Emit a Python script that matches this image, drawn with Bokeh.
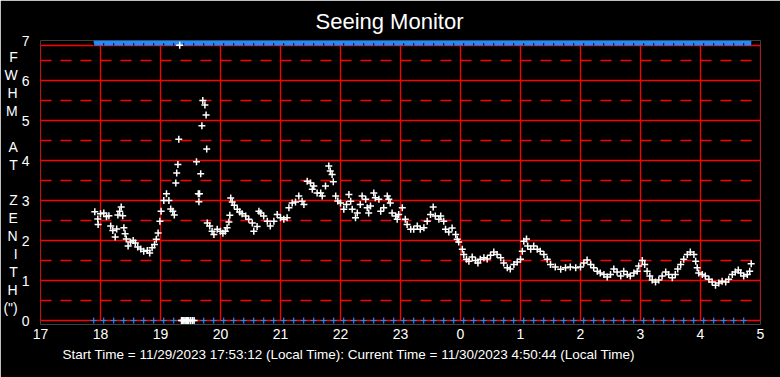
from bokeh.plotting import figure
from bokeh.models import Range1d, FixedTicker, Title
from bokeh.embed import file_html
from bokeh.resources import INLINE

# ---------------- data ----------------
title_text = "Seeing Monitor"
footer_text = "Start Time = 11/29/2023  17:53:12 (Local Time): Current Time =  11/30/2023 4:50:44  (Local Time)"
ylabel_letters = ["F", "W", "H", "M", " ", "A", "T", " ", "Z", "E", "N", "I", "T", "H", "(\")"]

x_ticks = [17, 18, 19, 20, 21, 22, 23, 24, 25, 26, 27, 28, 29]
x_tick_labels = ["17", "18", "19", "20", "21", "22", "23", "0", "1", "2", "3", "4", "5"]
y_ticks = [0, 1, 2, 3, 4, 5, 6, 7]
half_levels = [0.5, 1.5, 2.5, 3.5, 4.5, 5.5, 6.5]
frame_top = 6.875

start_hour = 17 + 53 / 60 + 12 / 3600
end_hour = 24 + 4 + 50 / 60 + 44 / 3600

fwhm_time = [
    17.905, 17.955, 17.96, 18.0, 18.055, 18.10, 18.14, 18.17, 18.205, 18.245,
    18.27, 18.29, 18.32, 18.345, 18.37, 18.39, 18.41, 18.43, 18.46, 18.50,
    18.545, 18.58, 18.62, 18.67, 18.72, 18.78, 18.82, 18.86, 18.90, 18.93,
    18.96, 18.99, 19.01, 19.055, 19.10, 19.14, 19.17, 19.205, 19.23, 19.255,
    19.27, 19.29, 19.305, 19.32,
    19.35, 19.37, 19.39, 19.41, 19.43, 19.45, 19.47, 19.50, 19.53, 19.56,
    19.60, 19.63, 19.64, 19.65, 19.67, 19.69, 19.705, 19.74, 19.76, 19.77,
    19.78, 19.82, 19.86, 19.89, 19.945, 20.0, 20.04, 20.08, 20.11, 20.14,
    20.155, 20.17, 20.195, 20.23, 20.28, 20.32, 20.36, 20.42, 20.47, 20.53,
    20.555, 20.61, 20.64, 20.67, 20.72, 20.78, 20.83, 20.89, 20.945, 21.0,
    21.055, 21.11, 21.14, 21.195, 21.25, 21.305, 21.36, 21.39, 21.445, 21.50,
    21.53, 21.555, 21.61, 21.67, 21.695, 21.75, 21.805, 21.83, 21.86, 21.88,
    21.92, 21.955, 22.0, 22.055, 22.10, 22.14, 22.17, 22.195, 22.25, 22.28,
    22.33, 22.36, 22.42, 22.445, 22.47, 22.50, 22.555, 22.58, 22.64, 22.67,
    22.72, 22.78, 22.805, 22.83, 22.86, 22.92, 22.945, 22.97, 23.03, 23.08,
    23.11, 23.17, 23.22, 23.28, 23.33, 23.39, 23.445, 23.50, 23.545, 23.58,
    23.64, 23.67, 23.72, 23.75, 23.805, 23.86, 23.92, 23.945, 23.97, 24.03,
    24.055, 24.10, 24.14, 24.195, 24.25, 24.29, 24.33, 24.39, 24.445, 24.50,
    24.555, 24.61, 24.67, 24.72, 24.78, 24.83, 24.89, 24.945, 25.0, 25.03,
    25.055, 25.10, 25.12, 25.17, 25.22, 25.28, 25.33, 25.39, 25.445, 25.50,
    25.58, 25.67, 25.75, 25.83, 25.92, 26.0, 26.055, 26.11, 26.17, 26.22,
    26.28, 26.33, 26.39, 26.445, 26.50, 26.555, 26.61, 26.67, 26.72, 26.78,
    26.83, 26.89, 26.945, 26.97, 27.03, 27.07, 27.11, 27.155, 27.195, 27.25,
    27.305, 27.36, 27.42, 27.47, 27.53, 27.58, 27.62, 27.67, 27.72, 27.78,
    27.83, 27.89, 27.92, 27.945, 27.97, 28.03, 28.08, 28.14, 28.195, 28.25,
    28.305, 28.36, 28.42, 28.47, 28.53, 28.58, 28.63, 28.67, 28.72, 28.78,
    28.82, 28.845,
]
fwhm_value = [
    2.72, 2.54, 2.40, 2.67, 2.69, 2.60, 2.62, 2.36, 2.25, 2.09,
    2.29, 2.64, 2.73, 2.84, 2.62, 2.32, 2.17, 2.04, 1.86, 1.96,
    2.00, 1.94, 1.84, 1.79, 1.73, 1.75, 1.69, 1.82, 1.90, 2.03,
    2.19, 2.48, 2.73, 3.00, 3.17, 3.00, 2.79, 2.73, 2.64, 3.44,
    3.69, 3.90, 4.53, 6.88,
    0.0, 0.0, 0.0, 0.0, 0.0, 0.0, 0.0, 0.0, 0.0, 0.0,
    3.97, 3.17, 2.97, 3.17, 3.67, 4.87, 5.50, 5.39, 5.14, 4.29,
    2.44, 2.36, 2.23, 2.15, 2.28, 2.23, 2.18, 2.23, 2.32, 2.46,
    2.63, 3.06, 2.96, 2.88, 2.78, 2.71, 2.67, 2.61, 2.53, 2.44,
    2.23, 2.35, 2.73, 2.69, 2.61, 2.48, 2.36, 2.48, 2.65, 2.57,
    2.53, 2.57, 2.82, 2.94, 2.96, 3.11, 2.98, 2.90, 3.48, 3.44,
    3.28, 3.36, 3.19, 3.19, 3.11, 3.36, 3.86, 3.74, 3.65, 3.47,
    3.11, 2.99, 2.94, 2.78, 2.90, 3.15, 2.98, 2.78, 2.57, 2.69,
    2.90, 3.11, 3.03, 2.82, 2.69, 2.86, 3.19, 3.07, 3.03, 2.73,
    2.82, 3.11, 3.03, 2.94, 2.69, 2.61, 2.53, 2.65, 2.82, 2.53,
    2.40, 2.28, 2.28, 2.36, 2.28, 2.32, 2.48, 2.65, 2.84, 2.61,
    2.53, 2.61, 2.48, 2.28, 2.21, 2.31, 2.15, 2.03, 1.96, 1.78,
    1.65, 1.53, 1.48, 1.59, 1.50, 1.44, 1.53, 1.57, 1.54, 1.63,
    1.71, 1.65, 1.57, 1.44, 1.32, 1.29, 1.40, 1.46, 1.53, 1.73,
    1.98, 2.04, 1.86, 1.78, 1.86, 1.78, 1.73, 1.65, 1.53, 1.40,
    1.34, 1.28, 1.32, 1.34, 1.32, 1.34, 1.44, 1.51, 1.40, 1.32,
    1.23, 1.19, 1.15, 1.09, 1.15, 1.29, 1.21, 1.11, 1.23, 1.15,
    1.11, 1.19, 1.23, 1.36, 1.50, 1.40, 1.23, 1.11, 1.01, 0.96,
    1.01, 1.11, 1.21, 1.15, 1.07, 1.15, 1.29, 1.40, 1.53, 1.65,
    1.71, 1.65, 1.48, 1.32, 1.19, 1.15, 1.11, 1.03, 0.96, 0.88,
    0.94, 0.98, 0.96, 1.03, 1.15, 1.21, 1.26, 1.19, 1.11, 1.15,
    1.23, 1.42,
]

ref_times = [
    "17:53",
    "18:03", "18:13", "18:23", "18:33", "18:43", "18:53",
    "19:03", "19:13", "19:23", "19:33", "19:43", "19:53",
    "20:03", "20:13", "20:23", "20:33", "20:43", "20:53",
    "21:03", "21:13", "21:23", "21:33", "21:43", "21:53",
    "22:03", "22:13", "22:23", "22:33", "22:43", "22:53",
    "23:03", "23:13", "23:23", "23:33", "23:43", "23:53",
    "0:03", "0:13", "0:23", "0:33", "0:43", "0:53",
    "1:03", "1:13", "1:23", "1:33", "1:43", "1:53",
    "2:03", "2:13", "2:23", "2:33", "2:43", "2:53",
    "3:03", "3:13", "3:23", "3:33", "3:43", "3:53",
    "4:03", "4:13", "4:23", "4:33", "4:43",
]


def to_hour(s):
    h, m = s.split(":")
    h = int(h)
    if h < 12:
        h += 24
    return h + int(m) / 60 + 12 / 3600


ref_x = [to_hour(s) for s in ref_times]
ref_y = [0.0 for _ in ref_x]

# ---------------- styling ----------------
RED = "#FF0000"
BLUE = "#1E8CFF"
FONT = "Liberation Sans"

p = figure(
    width=780, height=377,
    x_range=Range1d(17, 29), y_range=Range1d(-0.1, 7),
    output_backend="svg", toolbar_location=None,
    background_fill_color="black", border_fill_color="black",
    outline_line_color=None,
    min_border_left=40, min_border_right=20,
    min_border_top=40, min_border_bottom=53,
)

p.title.text = title_text
p.title.align = "left"
p.title.offset = 275
p.title.standoff = 13
p.title.text_color = "white"
p.title.text_font = FONT
p.title.text_font_size = "22px"
p.title.text_font_style = "normal"

p.add_layout(Title(text=footer_text, align="left", offset=22, standoff=6, text_color="white",
                   text_font=FONT, text_font_size="13.5px", text_font_style="normal"), "below")

p.xgrid.visible = False
p.ygrid.visible = False

p.xaxis.ticker = FixedTicker(ticks=x_ticks)
p.xaxis.major_label_overrides = {t: l for t, l in zip(x_ticks, x_tick_labels)}
p.yaxis.ticker = FixedTicker(ticks=y_ticks)
for ax in (p.xaxis, p.yaxis):
    ax.axis_line_color = None
    ax.major_tick_line_color = None
    ax.minor_tick_line_color = None
    ax.major_label_text_color = "white"
    ax.major_label_text_font = FONT
    ax.major_label_text_font_size = "14px"
p.xaxis.major_label_standoff = -2
p.yaxis.major_label_standoff = 5

p.yaxis.axis_label = "\n".join(ylabel_letters)
p.yaxis.axis_label_orientation = "horizontal"
p.yaxis.axis_label_text_color = "white"
p.yaxis.axis_label_text_font = FONT
p.yaxis.axis_label_text_font_size = "14px"
p.yaxis.axis_label_text_font_style = "normal"
p.yaxis.axis_label_text_line_height = 1.12
p.yaxis.axis_label_text_align = "center"
p.yaxis.axis_label_standoff = 1

p.segment(x0=x_ticks, y0=[0] * len(x_ticks), x1=x_ticks, y1=[frame_top] * len(x_ticks),
          line_color=RED, line_width=1.3)
hy = y_ticks[:-1] + [frame_top]
p.segment(x0=[x_ticks[0]] * len(hy), y0=hy, x1=[x_ticks[-1]] * len(hy), y1=hy,
          line_color=RED, line_width=1.3)
p.segment(x0=[x_ticks[0]] * len(half_levels), y0=half_levels,
          x1=[x_ticks[-1]] * len(half_levels), y1=half_levels,
          line_color=RED, line_width=1.3, line_dash="11 9")

p.quad(left=[start_hour], right=[end_hour], bottom=[frame_top], top=[7],
       fill_color=BLUE, line_color=None)
p.segment(x0=ref_x, y0=[frame_top] * len(ref_x), x1=ref_x, y1=[frame_top + 0.06] * len(ref_x),
          line_color="black", line_width=1)

p.scatter(ref_x, ref_y, marker="cross", size=6, line_color=BLUE, line_width=1.2)
p.scatter(fwhm_time, fwhm_value, marker="cross", size=7, line_color="white", line_width=1.5)

open("out.html", "w").write(file_html(p, INLINE))
